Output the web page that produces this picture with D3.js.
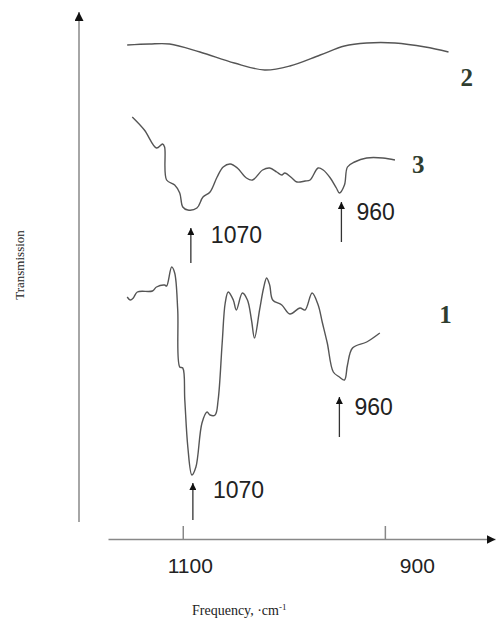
<!DOCTYPE html>
<html>
<head>
<meta charset="utf-8">
<script src="https://cdn.jsdelivr.net/npm/d3@7"></script>
<style>
  body { margin: 0; background: #fff; }
  svg { display: block; }
  .num { font-family: "Liberation Sans", Arial, sans-serif; fill: #222; }
  .serif { font-family: "Liberation Serif", "Times New Roman", serif; fill: #222; }
</style>
</head>
<body>
<svg id="chart" width="496" height="625"></svg>
<script>
// IR spectra, frequency in cm-1 (decreasing to the right), transmission in arbitrary units

// Spectrum 2 (top, broad)
const freq2 = [1155, 1133, 1113, 1083, 1049, 1019, 994, 964, 940, 918, 890, 860, 837];
const trans2 = [494, 495, 495, 487, 476, 469, 473, 484, 493, 496, 496, 492, 487];

// Spectrum 3 (middle)
const freq3 = [1150, 1138, 1126, 1120, 1118, 1116, 1108, 1103, 1100, 1095, 1086, 1080, 1073,
  1066, 1060, 1053, 1046, 1037, 1031, 1021, 1014, 1007, 1002, 999, 992, 987, 979, 974, 966,
  961, 954, 948, 945, 940, 937, 930, 918, 902, 890];
const trans3 = [422, 409, 391, 395, 392, 359, 354, 346, 332, 329, 331, 342, 347,
  362, 372, 375, 371, 361, 359, 369, 371, 367, 364, 366, 361, 357, 358, 359, 371,
  369, 361, 351, 346, 354, 372, 377, 381, 381, 379];

// Spectrum 1 (bottom, sharp)
const freq1 = [1155, 1152, 1149, 1145, 1130, 1126, 1118, 1116, 1111, 1108, 1105, 1103, 1100,
  1098, 1095, 1091, 1087, 1081, 1076, 1073, 1068, 1065, 1061, 1058, 1055, 1050, 1047, 1041,
  1036, 1032, 1029, 1024, 1020, 1017, 1014, 1011, 1002, 994, 984, 979, 972, 966, 962, 957,
  951, 945, 940, 937, 932, 918, 905];
const trans1 = [242, 239, 241, 247, 248, 252, 254, 253, 272, 266, 229, 172, 171,
  139, 92, 64, 72, 116, 127, 124, 124, 139, 196, 236, 247, 239, 229, 246,
  239, 219, 201, 229, 251, 261, 254, 239, 234, 225, 231, 229, 246, 234, 217, 196,
  167, 162, 159, 174, 191, 197, 206];

// Curve names and where their numbers sit
const seriesNames = ["2", "3", "1"];
const nameFreq = [819, 867, 840];
const nameTrans = [453, 366, 216];

// Band arrows
const bandLabels = ["1070", "960", "960", "1070"];
const bandFreq = [1092, 943, 945, 1090];
const bandTipTrans = [311, 337, 142, 56];
const bandTailTrans = [276, 297, 102, 19];

// Axis ticks
const tickValues = [1100, 900];
const tickLabels = ["1100", "900"];

const svg = d3.select("#chart");

const x = d3.scaleLinear().domain([1174, 791]).range([108, 495]);
const y = d3.scaleLinear().domain([0, 527]).range([539, 12]);

// Arrowheads
const defs = svg.append("defs");
defs.append("marker")
  .attr("id", "axisHead")
  .attr("viewBox", "0 0 10 10")
  .attr("refX", 10).attr("refY", 5)
  .attr("markerWidth", 9).attr("markerHeight", 9)
  .attr("markerUnits", "userSpaceOnUse")
  .attr("orient", "auto")
  .append("path").attr("d", "M0,0L10,5L0,10Z").attr("fill", "#111");
defs.append("marker")
  .attr("id", "bandHead")
  .attr("viewBox", "0 0 10 10")
  .attr("refX", 10).attr("refY", 5)
  .attr("markerWidth", 10).attr("markerHeight", 7)
  .attr("markerUnits", "userSpaceOnUse")
  .attr("orient", "auto")
  .append("path").attr("d", "M0,0L10,5L0,10Z").attr("fill", "#111");

// X axis (ticks point up)
const xAxis = svg.append("g")
  .attr("transform", `translate(0,${y(0)})`)
  .call(d3.axisBottom(x)
    .tickValues(tickValues)
    .tickFormat((d, i) => tickLabels[i])
    .tickSizeInner(-13)
    .tickSizeOuter(0)
    .tickPadding(19));
xAxis.select(".domain").attr("stroke", "#888").attr("stroke-width", 1.5)
  .attr("marker-end", "url(#axisHead)");
xAxis.selectAll(".tick line").attr("stroke", "#888").attr("stroke-width", 1.5);
const labelShift = [7, 32];
xAxis.selectAll(".tick text")
  .attr("class", "num")
  .attr("font-size", 21)
  .attr("dx", (d, i) => labelShift[i]);

// Y axis
svg.append("line")
  .attr("x1", 79).attr("x2", 79)
  .attr("y1", y(17)).attr("y2", y(527))
  .attr("stroke", "#888").attr("stroke-width", 1.5)
  .attr("marker-end", "url(#axisHead)");

// Axis titles
svg.append("text")
  .attr("class", "serif")
  .attr("transform", `translate(24,265) rotate(-90)`)
  .attr("text-anchor", "middle")
  .attr("font-size", 13)
  .text("Transmission");

const xTitle = svg.append("text")
  .attr("class", "serif")
  .attr("x", 192).attr("y", 615)
  .attr("font-size", 14);
xTitle.append("tspan").text("Frequency, ·cm");
xTitle.append("tspan").attr("dy", -5).attr("font-size", 9).text("-1");

// Spectra
const line = d3.line()
  .x(d => x(d[0]))
  .y(d => y(d[1]))
  .curve(d3.curveCatmullRom.alpha(0.5));

const spectra = [
  d3.zip(freq2, trans2),
  d3.zip(freq3, trans3),
  d3.zip(freq1, trans1)
];

svg.selectAll("path.spectrum")
  .data(spectra)
  .join("path")
  .attr("class", "spectrum")
  .attr("fill", "none")
  .attr("stroke", "#555")
  .attr("stroke-width", 1.4)
  .attr("stroke-linejoin", "round")
  .attr("d", line);

// Curve numbers
svg.selectAll("text.name")
  .data(seriesNames)
  .join("text")
  .attr("class", "name serif")
  .attr("x", (d, i) => x(nameFreq[i]))
  .attr("y", (d, i) => y(nameTrans[i]))
  .attr("text-anchor", "middle")
  .attr("font-size", 25)
  .attr("font-weight", "bold")
  .style("fill", "#2f3d2f")
  .text(d => d);

// Band arrows and labels
const bands = bandLabels.map((label, i) => ({
  label, f: bandFreq[i], tip: bandTipTrans[i], tail: bandTailTrans[i]
}));

svg.selectAll("line.band")
  .data(bands)
  .join("line")
  .attr("class", "band")
  .attr("x1", d => x(d.f)).attr("x2", d => x(d.f))
  .attr("y1", d => y(d.tail)).attr("y2", d => y(d.tip))
  .attr("stroke", "#333")
  .attr("stroke-width", 1.3)
  .attr("marker-end", "url(#bandHead)");

svg.selectAll("text.band")
  .data(bands)
  .join("text")
  .attr("class", "band num")
  .attr("x", d => x(d.f) + (d.label === "1070" ? 20 : 15))
  .attr("y", d => y(d.tip) + (d.label === "1070" ? 15 : 18))
  .attr("font-size", 23)
  .text(d => d.label);
</script>
</body>
</html>
